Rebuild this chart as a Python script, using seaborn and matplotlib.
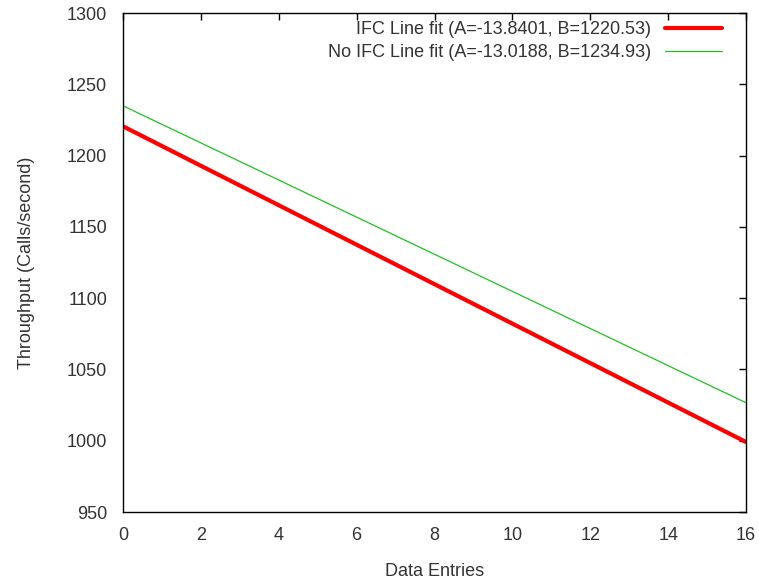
import matplotlib
matplotlib.use("Agg")
import matplotlib.pyplot as plt
import seaborn as sns
import pandas as pd

# Data: fitted lines, read at the ends of the x range
x_vals = [0, 16]
ifc_vals = [1220.53, 999.09]
noifc_vals = [1234.93, 1026.63]
ifc_label = "IFC Line fit (A=-13.8401, B=1220.53)"
noifc_label = "No IFC Line fit (A=-13.0188, B=1234.93)"
x_ticks = list(range(0, 17, 2))
y_ticks = list(range(950, 1301, 50))

sns.set_theme(style="white")
plt.rcParams['font.family'] = ['Liberation Sans', 'DejaVu Sans']

df = pd.DataFrame({
    "x": x_vals * 2,
    "y": ifc_vals + noifc_vals,
    "series": [ifc_label] * 2 + [noifc_label] * 2,
})

FS = 13
fig = plt.figure(figsize=(7.59, 5.82), dpi=100)
ax = fig.add_axes([123 / 759, 1 - 512 / 582, (746 - 123) / 759, (512 - 13) / 582])

sns.lineplot(data=df[df.series == ifc_label], x="x", y="y", color="#ff0000",
             linewidth=3, label=ifc_label, ax=ax)
sns.lineplot(data=df[df.series == noifc_label], x="x", y="y", color="#22c022",
             linewidth=0.9, label=noifc_label, ax=ax)

ax.set_xlim(0, 16)
ax.set_ylim(950, 1300)
ax.set_xticks(x_ticks)
ax.set_yticks(y_ticks)
ax.tick_params(direction="in", length=5, width=1, top=True, right=True,
               labelsize=FS, colors="black", labelcolor="#333333")
ax.tick_params(axis="y", pad=11.5)
ax.tick_params(axis="x", pad=10.5)
for s in ax.spines.values():
    s.set_color("black")
    s.set_linewidth(1)
ax.set_xlabel("Data Entries", fontsize=FS, color="#333333", labelpad=14)
ax.set_ylabel("Throughput (Calls/second)", fontsize=FS, color="#333333", labelpad=23)

leg = ax.legend(loc="upper right", frameon=False, markerfirst=False,
                fontsize=FS, handlelength=3.15, borderaxespad=0, borderpad=0,
                bbox_to_anchor=(1 - 24 / 623, 1 - 8 / 499),
                labelspacing=0.33, handletextpad=0.78)
for t in leg.get_texts():
    t.set_color("#333333")
    t.set_ha("right")
leg._legend_box.align = "right"

fig.savefig("out.png", dpi=100)
